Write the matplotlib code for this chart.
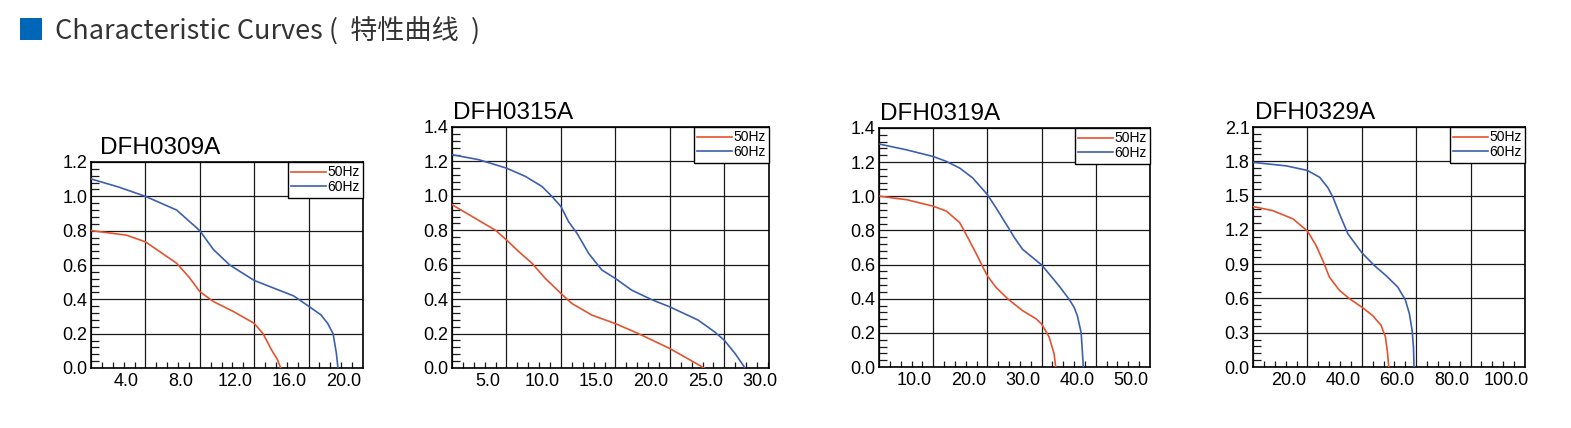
"""
Fan characteristic curves (DFH03xxA series), four small P-Q charts in a row.
"""
import matplotlib
matplotlib.use("Agg")
from matplotlib import pyplot as plt, ticker, transforms

W, H, DPI = 1571, 428, 100

models = ["DFH0309A", "DFH0315A", "DFH0319A", "DFH0329A"]
series_names = ["50Hz", "60Hz"]

# DFH0309A
q_0309_50 = [0.05, 2.6, 4.0, 5.07, 6.3, 7.2, 8.0, 9.0, 10.45, 12.0, 12.65, 13.27, 13.7, 13.95]
p_0309_50 = [0.80, 0.774, 0.735, 0.677, 0.61, 0.53, 0.445, 0.387, 0.33, 0.26, 0.20, 0.106, 0.05, 0.0]
q_0309_60 = [0.05, 2.0, 4.0, 6.3, 8.0, 9.0, 10.2, 12.0, 14.9, 16.0, 16.9, 17.4, 17.8, 18.04, 18.16]
p_0309_60 = [1.10, 1.055, 1.00, 0.92, 0.80, 0.69, 0.60, 0.51, 0.42, 0.36, 0.31, 0.26, 0.20, 0.087, 0.0]

# DFH0315A
q_0315_50 = [0.02, 1.85, 4.0, 5.0, 6.13, 7.35, 8.57, 10.0, 11.0, 12.85, 15.0, 17.1, 20.0, 23.15]
p_0315_50 = [0.948, 0.88, 0.80, 0.744, 0.676, 0.608, 0.52, 0.433, 0.375, 0.307, 0.258, 0.20, 0.113, 0.0]
q_0315_60 = [0.02, 2.47, 5.0, 6.74, 8.27, 9.18, 10.0, 10.7, 11.47, 12.54, 13.76, 15.0, 16.5, 18.3,
             20.0, 22.6, 24.1, 25.0, 26.0, 26.9]
p_0315_60 = [1.239, 1.21, 1.161, 1.113, 1.054, 0.996, 0.938, 0.85, 0.783, 0.666, 0.569, 0.52, 0.452, 0.398,
             0.355, 0.278, 0.21, 0.161, 0.083, 0.0]

# DFH0319A
q_0319_50 = [0.2, 5.1, 10.0, 12.45, 14.9, 16.4, 18.0, 19.2, 20.0, 21.6, 23.8, 26.5, 29.0, 30.0,
             31.4, 32.3, 32.6]
p_0319_50 = [1.0, 0.98, 0.942, 0.913, 0.845, 0.757, 0.66, 0.583, 0.534, 0.466, 0.398, 0.33, 0.282, 0.252,
             0.175, 0.078, 0.0]
q_0319_60 = [0.2, 5.1, 10.0, 12.45, 14.9, 17.3, 20.0, 21.6, 23.5, 25.0, 26.5, 30.0, 33.2, 35.0,
             36.0, 36.6, 37.3, 37.7]
p_0319_60 = [1.305, 1.272, 1.233, 1.204, 1.165, 1.107, 1.01, 0.932, 0.835, 0.757, 0.689, 0.598, 0.476, 0.40,
             0.35, 0.30, 0.20, 0.0]

# DFH0329A
q_0329_50 = [0.2, 7.3, 14.7, 20.0, 23.2, 25.7, 28.1, 31.8, 35.5, 40.0, 44.0, 47.1, 48.7, 49.5, 49.9]
p_0329_50 = [1.403, 1.368, 1.296, 1.19, 1.063, 0.93, 0.786, 0.67, 0.597, 0.524, 0.45, 0.364, 0.262,
             0.116, 0.0]
q_0329_60 = [0.2, 12.2, 20.0, 24.5, 27.5, 29.4, 31.8, 34.9, 40.0, 44.6, 48.9, 53.2, 56.0, 57.5, 58.5,
             59.0, 59.2]
p_0329_60 = [1.79, 1.76, 1.72, 1.66, 1.57, 1.485, 1.34, 1.165, 1.0, 0.888, 0.80, 0.70, 0.588, 0.466, 0.32,
             0.175, 0.0]

curves = [
    [(q_0309_50, p_0309_50), (q_0309_60, p_0309_60)],
    [(q_0315_50, p_0315_50), (q_0315_60, p_0315_60)],
    [(q_0319_50, p_0319_50), (q_0319_60, p_0319_60)],
    [(q_0329_50, p_0329_50), (q_0329_60, p_0329_60)],
]

x_max = [20.0, 29.1, 50.0, 100.0]
x_step = [4.0, 5.0, 10.0, 20.0]
x_tick_labels = [
    [4.0, 8.0, 12.0, 16.0, 20.0],
    [5.0, 10.0, 15.0, 20.0, 25.0, 30.0],
    [10.0, 20.0, 30.0, 40.0, 50.0],
    [20.0, 40.0, 60.0, 80.0, 100.0],
]
y_max = [1.2, 1.4, 1.4, 2.1]
y_step = [0.2, 0.2, 0.2, 0.3]

# axes boxes in pixels (left, top, right, bottom) and title x offsets
boxes = [(91, 162, 363, 368), (452, 127, 769, 368), (879, 128, 1150, 367), (1253, 127, 1525, 367)]
title_dx = [9, 1, 1, 2]

colors = ["#E4532F", "#3D5FAF"]
font = "Liberation Sans"

fig = plt.figure(figsize=(W / DPI, H / DPI), dpi=DPI)

# header
fig.patches.append(plt.Rectangle((20 / W, 1 - 40 / H), 22 / W, 22 / H, transform=fig.transFigure,
                                 facecolor="#0066B8", edgecolor="none"))
fig.text(55 / W, 1 - 40 / H, "Characteristic Curves (  特性曲线  )", fontsize=19.5, color="#333333",
         family=["Noto Sans CJK SC", "DejaVu Sans"], va="baseline", ha="left")

for i, model in enumerate(models):
    l, t, r, b = boxes[i]
    ax = fig.add_axes([l / W, 1 - b / H, (r - l) / W, (b - t) / H])

    lines = []
    for (q, p), c, name in zip(curves[i], colors, series_names):
        ln, = ax.plot(q, p, color=c, lw=1.2, label=name, zorder=3)
        lines.append(ln)

    ax.set_xlim(0, x_max[i])
    ax.set_ylim(0, y_max[i])
    ax.xaxis.set_major_locator(ticker.MultipleLocator(x_step[i]))
    ax.xaxis.set_minor_locator(ticker.MultipleLocator(x_step[i] / 5))
    ax.xaxis.set_major_formatter(ticker.NullFormatter())
    ax.yaxis.set_major_locator(ticker.MultipleLocator(y_step[i]))
    ax.yaxis.set_minor_locator(ticker.MultipleLocator(y_step[i] / 5))
    ax.yaxis.set_major_formatter(ticker.FuncFormatter(lambda v, _: f"{v:.1f}"))

    ax.grid(which="major", color="#1a1a1a", lw=0.9)
    ax.set_axisbelow(True)
    ax.tick_params(which="major", length=0, pad=2.5, labelsize=13)
    ax.tick_params(axis="y", which="minor", direction="in", length=6, width=0.9, color="#1a1a1a")
    ax.tick_params(axis="x", which="minor", direction="in", length=4.5, width=0.9, color="#1a1a1a")
    for lbl in ax.get_yticklabels():
        lbl.set_family(font)
    for sp in ax.spines.values():
        sp.set_linewidth(1.2)
        sp.set_color("black")

    # x labels sit left of the grid lines in the original sheet
    shift = transforms.ScaledTranslation(-0.19, -0.05, fig.dpi_scale_trans)
    trans = transforms.blended_transform_factory(ax.transData, ax.transAxes) + shift
    for v in x_tick_labels[i]:
        ax.text(v, 0, f"{v:.1f}", transform=trans, ha="center", va="top",
                fontsize=13, family=font, clip_on=False)

    ax.text(0, 1, model, transform=ax.transAxes + transforms.ScaledTranslation(
        title_dx[i] / DPI, 0.08, fig.dpi_scale_trans), ha="left", va="baseline",
        fontsize=17.5, family=font)

    leg = ax.legend(handles=lines, loc="upper right", borderaxespad=0, fancybox=False,
                    edgecolor="black", framealpha=1, handlelength=2.5, handletextpad=0.1,
                    borderpad=0.25, labelspacing=0.05, prop={"family": font, "size": 10})
    leg.get_frame().set_linewidth(1.0)

fig.savefig("out.png", dpi=DPI)
